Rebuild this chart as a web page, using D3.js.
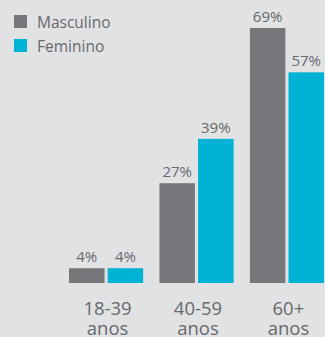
<!DOCTYPE html>
<html><head><meta charset="utf-8">
<script src="https://cdn.jsdelivr.net/npm/d3@7"></script>
<style>html,body{margin:0;padding:0;background:#e1e2e4;overflow:hidden}</style>
</head><body>
<svg id="c" width="325" height="337"></svg>
<script>
const categories = ["18-39", "40-59", "60+"];
const categoryLine2 = ["anos", "anos", "anos"];
const series = ["Masculino", "Feminino"];
const masculino = [4, 27, 69];
const feminino = [4, 39, 57];
const colors = ["#76777b", "#00b2d3"];

const svg = d3.select("#c");
const font = "'Open Sans', sans-serif";
const textColor = "#68696d";
const baseline = 283;

const x0 = d3.scaleBand().domain(categories).range([69, 324]).paddingInner(0.18).paddingOuter(0);
const x1 = d3.scaleBand().domain(series).range([0, x0.bandwidth()]).paddingInner(0.08);
const y = d3.scaleLinear().domain([0, 69]).range([baseline, 28]);

const data = categories.map((c, i) => ({cat: c, vals: [masculino[i], feminino[i]]}));

const g = svg.selectAll("g.grp").data(data).enter().append("g")
  .attr("transform", d => `translate(${x0(d.cat)},0)`);

g.selectAll("rect").data(d => d.vals.map((v, j) => ({v, s: series[j], j})))
  .enter().append("rect")
  .attr("x", d => x1(d.s)).attr("width", x1.bandwidth())
  .attr("y", d => y(d.v)).attr("height", d => baseline - y(d.v))
  .attr("fill", d => colors[d.j]);

g.selectAll("text.val").data(d => d.vals.map((v, j) => ({v, s: series[j], j})))
  .enter().append("text").attr("class", "val")
  .attr("x", d => x1(d.s) + x1.bandwidth() / 2).attr("y", d => y(d.v) - 6)
  .attr("text-anchor", "middle").attr("font-family", font).attr("font-size", 15)
  .attr("fill", textColor).text(d => d.v + "%");

const cx = d => x0(d) + x0.bandwidth() / 2 + 1.5;
const lab = svg.selectAll("text.cat").data(categories).enter().append("text")
  .attr("class", "cat").attr("text-anchor", "middle")
  .attr("font-family", font).attr("font-size", 18.5).attr("fill", textColor);
lab.append("tspan").attr("x", cx).attr("y", 315).text(d => d);
lab.append("tspan").attr("x", cx).attr("y", 335).text((d, i) => categoryLine2[i]);

const leg = svg.selectAll("g.leg").data(series).enter().append("g")
  .attr("transform", (d, i) => `translate(14,${15 + i * 24})`);
leg.append("rect").attr("width", 13).attr("height", 13).attr("fill", (d, i) => colors[i]);
leg.append("text").attr("x", 23).attr("y", 12.5).attr("font-family", font)
  .attr("font-size", 15.5).attr("fill", textColor).text(d => d);
</script>
</body></html>
